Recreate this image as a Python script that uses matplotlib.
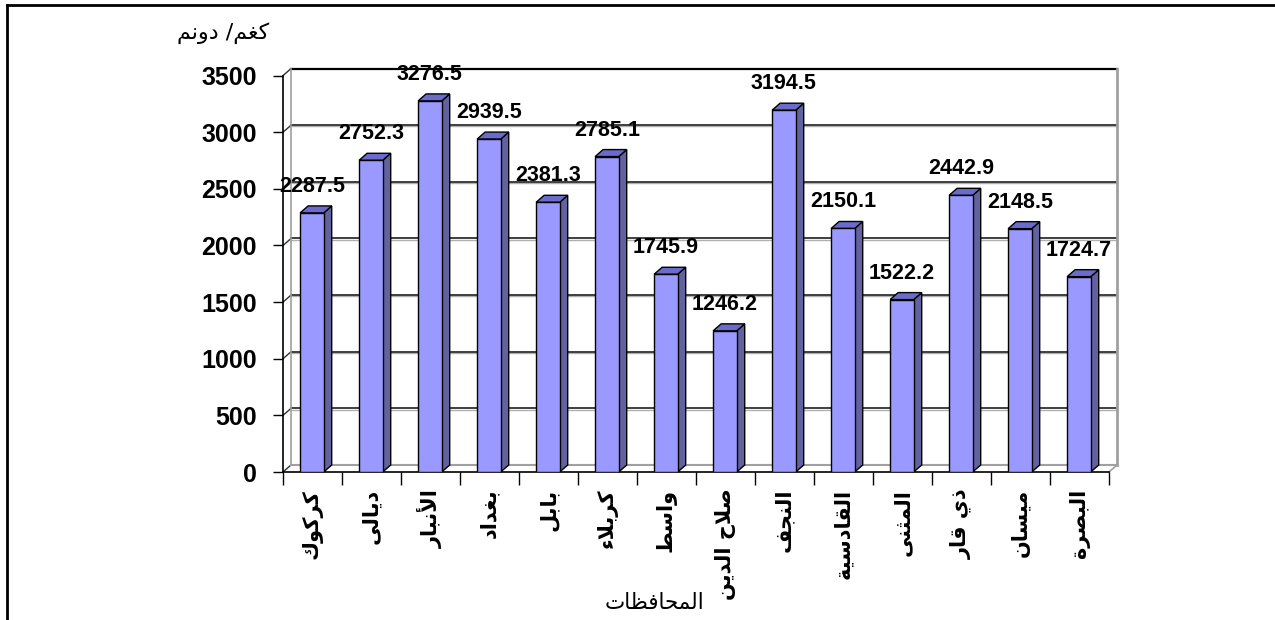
import unicodedata
import matplotlib
matplotlib.use("Agg")
import matplotlib.pyplot as plt
from matplotlib.patches import Polygon
from matplotlib.lines import Line2D

# data
provinces = ['كركوك', 'ديالى', 'الأنبار', 'بغداد', 'بابل', 'كربلاء', 'واسط',
             'صلاح الدين', 'النجف', 'القادسية', 'المثنى', 'ذي قار', 'ميسان', 'البصرة']
yields = [2287.5, 2752.3, 3276.5, 2939.5, 2381.3, 2785.1, 1745.9,
          1246.2, 3194.5, 2150.1, 1522.2, 2442.9, 2148.5, 1724.7]
y_ticks = [0, 500, 1000, 1500, 2000, 2500, 3000, 3500]
x_title = 'المحافظات'
y_title = 'كغم/ دونم'

RIGHT_JOIN = set('اأإآدذرزوةى')
NON_JOIN = set('ء')


def shape_ar(text):
    # matplotlib has no arabic shaping: pick presentation forms by hand, then reverse
    toks = []
    i = 0
    while i < len(text):
        c = text[i]
        if c == 'ل' and i + 1 < len(text) and text[i + 1] in 'اأ':
            toks.append(('LIG', text[i + 1]))
            i += 2
            continue
        toks.append(('CH', c))
        i += 1

    def jtype(t):
        kind, c = t
        if kind == 'LIG':
            return 'R'
        if not ('\u0600' <= c <= '\u06ff') or c in NON_JOIN:
            return 'U'
        if c in RIGHT_JOIN:
            return 'R'
        return 'D'

    types = [jtype(t) for t in toks]
    out = []
    for k, (kind, c) in enumerate(toks):
        jt = types[k]
        prev = k > 0 and types[k - 1] == 'D' and jt in 'DR'
        nxt = jt == 'D' and k + 1 < len(toks) and types[k + 1] in 'DR'
        form = {(True, True): 'MEDIAL', (True, False): 'FINAL',
                (False, True): 'INITIAL', (False, False): 'ISOLATED'}[(prev, nxt)]
        if kind == 'LIG':
            base = 'ARABIC LIGATURE LAM WITH ' + unicodedata.name(c)[len('ARABIC LETTER '):]
        elif jt == 'U' and c not in NON_JOIN:
            out.append(c)
            continue
        else:
            base = unicodedata.name(c)
        try:
            out.append(unicodedata.lookup(f'{base} {form} FORM'))
        except KeyError:
            out.append(c)
    return ''.join(reversed(out))


front_col = '#9999FF'
side_col = '#62629E'
top_col = '#6B6BCB'
depth_px = (8, 7)

fig = plt.figure(figsize=(12.75, 6.2), dpi=100)
ax = fig.add_axes([283 / 1275, 1 - 472 / 620, 826 / 1275, 396.4 / 620])
n = len(provinces)
ax.set_xlim(0, n)
ax.set_ylim(0, y_ticks[-1])

bb = ax.get_window_extent()
dx = depth_px[0] * n / bb.width
dy = depth_px[1] * y_ticks[-1] / bb.height

# back wall + side wall (fake 3d)
for y in y_ticks:
    if y == y_ticks[-1]:
        ax.plot([dx, n + dx], [y + dy, y + dy], color='black', lw=1.6, clip_on=False, zorder=1)
    elif y > 0:
        ax.plot([dx, n + dx], [y + dy - 10, y + dy - 10], color='#b0b0b0', lw=1.0, clip_on=False, zorder=1)
        ax.plot([dx, n + dx], [y + dy, y + dy], color='#303030', lw=1.3, clip_on=False, zorder=1)
    ax.plot([0, dx], [y, y + dy], color='#303030', lw=1.0, clip_on=False, zorder=1)
ax.plot([dx, dx], [dy, y_ticks[-1] + dy], color='#a0a0a0', lw=1.2, clip_on=False, zorder=1)
ax.plot([n + dx, n + dx], [dy, y_ticks[-1] + dy], color='#a0a0a0', lw=2, clip_on=False, zorder=1)
ax.plot([dx, n + dx], [dy, dy], color='#a0a0a0', lw=1.5, clip_on=False, zorder=1)
ax.plot([n, n + dx], [0, dy], color='#a0a0a0', lw=1.2, clip_on=False, zorder=1)

# bars
bar_w = 0.40
for i, v in enumerate(yields):
    xl = i + 0.29
    xr = xl + bar_w
    ax.add_patch(Polygon([(xr, 0), (xr + dx, dy), (xr + dx, v + dy), (xr, v)],
                         facecolor=side_col, edgecolor='black', lw=1, zorder=3, clip_on=False))
    ax.add_patch(Polygon([(xl, v), (xl + dx, v + dy), (xr + dx, v + dy), (xr, v)],
                         facecolor=top_col, edgecolor='black', lw=1, zorder=3, clip_on=False))
    ax.bar(xl, v, width=bar_w, align='edge', color=front_col, edgecolor='black', lw=1, zorder=4)
    ax.annotate(f'{v:.1f}', (xl + bar_w / 2, v), xytext=(0, 16), textcoords='offset pixels',
                ha='center', va='bottom', fontsize=15.5, fontweight='bold',
                family='Liberation Sans', zorder=5)

for s in ['top', 'right']:
    ax.spines[s].set_visible(False)
for s in ['left', 'bottom']:
    ax.spines[s].set_linewidth(1.2)
    ax.spines[s].set_zorder(2)

ax.set_yticks(y_ticks)
ax.set_yticklabels([str(t) for t in y_ticks], fontsize=18, fontweight='bold', family='Liberation Sans')
ax.tick_params(axis='y', length=7, width=1, pad=12)

ax.set_xticks(range(n + 1))
ax.set_xticklabels([])
ax.tick_params(axis='x', which='major', length=9, width=1)
ax.set_xticks([i + 0.5 for i in range(n)], minor=True)
ax.set_xticklabels([shape_ar(p) for p in provinces], minor=True, rotation=90,
                   fontsize=15, fontweight='bold', family='DejaVu Sans')
ax.tick_params(axis='x', which='minor', length=0, pad=12)

fig.text(654 / 1275, 1 - 603 / 620, shape_ar(x_title), ha='center', va='center',
         fontsize=15.5, family='DejaVu Sans')
fig.text(223 / 1275, 1 - 33 / 620, shape_ar(y_title), ha='center', va='center',
         fontsize=16, family='DejaVu Sans')

# outer frame (left and top only)
fig.add_artist(Line2D([7 / 1275, 7 / 1275], [0, 1 - 5 / 620], transform=fig.transFigure,
                      color='black', lw=2))
fig.add_artist(Line2D([7 / 1275, 1], [1 - 5 / 620, 1 - 5 / 620], transform=fig.transFigure,
                      color='black', lw=2))

fig.savefig('out.png', dpi=100)
